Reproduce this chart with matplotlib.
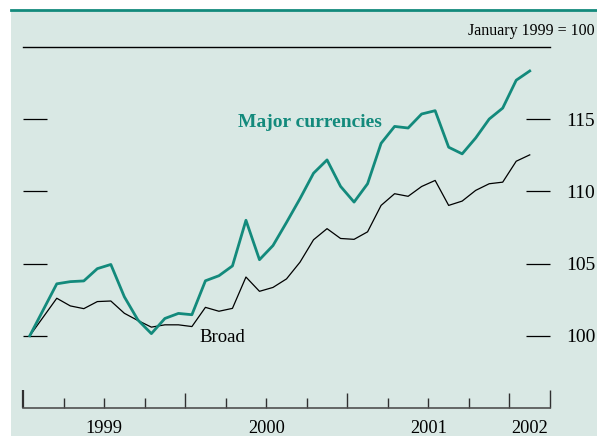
import numpy as np
import matplotlib
matplotlib.use("Agg")
import matplotlib.pyplot as plt
from matplotlib.patches import Rectangle
from matplotlib.lines import Line2D

# Monthly index values, January 1999 = 100 (Jan 1999 .. Feb 2002)
major = [100.0, 101.8, 103.6, 103.75, 103.8, 104.65, 104.94, 102.7, 101.1, 100.15,
         101.2, 101.55, 101.46, 103.81, 104.16, 104.84, 108.0, 105.27, 106.25, 107.85,
         109.5, 111.26, 112.18, 110.35, 109.26, 110.53, 113.33, 114.5, 114.39, 115.36,
         115.59, 113.06, 112.6, 113.7, 115.01, 115.77, 117.7, 118.34]
broad = [100.0, 101.3, 102.6, 102.07, 101.88, 102.37, 102.41, 101.56, 101.06, 100.6,
         100.76, 100.76, 100.64, 101.97, 101.7, 101.9, 104.07, 103.08, 103.35, 103.94,
         105.1, 106.65, 107.42, 106.74, 106.68, 107.2, 109.03, 109.84, 109.66, 110.34,
         110.76, 109.03, 109.33, 110.07, 110.53, 110.64, 112.09, 112.53]
years = ["1999", "2000", "2001", "2002"]
year_pos = [6, 18, 30, 37.5]          # months from start of 1999
y_ticks = [100, 105, 110, 115]

TEAL = "#138a7c"
BG = "#d9e8e4"

plt.rcParams["font.family"] = ["Liberation Serif", "DejaVu Serif"]

fig = plt.figure(figsize=(5.97, 4.36), dpi=100)
W, H = 597, 436

# panel background and top rule
fig.add_artist(Rectangle((11 / W, 0), 1 - 11 / W, (H - 10) / H,
                         transform=fig.transFigure, facecolor=BG, edgecolor="none", zorder=0))
fig.add_artist(Line2D([11 / W, 1], [1 - 10 / H, 1 - 10 / H], transform=fig.transFigure,
                      color=TEAL, lw=2.0, zorder=1))

ax = fig.add_axes([23 / W, (H - 408) / H, 527 / W, 361 / H])
ax.set_facecolor("none")

x = np.arange(len(major)) + 0.5
ax.plot(x, broad, color="black", lw=0.9, zorder=3)
ax.plot(x, major, color=TEAL, lw=2.0, zorder=4)

ax.set_xlim(0, 39)
ax.set_ylim(95, 120)

for side in ["left", "right"]:
    ax.spines[side].set_visible(False)
ax.spines["top"].set_color("black")
ax.spines["top"].set_linewidth(1.0)
ax.spines["bottom"].set_color("#505050")
ax.spines["bottom"].set_linewidth(1.2)

# y ticks: short dashes inside both edges, labels on the right
ax.set_yticks(y_ticks)
ax.set_yticklabels([str(v) for v in y_ticks])
ax.tick_params(axis="y", direction="in", length=17.3, width=0.9, color="black",
               left=True, right=True, labelleft=False, labelright=True,
               labelsize=14, pad=11.5)

# x ticks: quarters minor, year boundaries major, ends longest
ax.set_xticks([0, 12, 24, 36, 39])
ax.set_xticks([q for q in range(3, 39, 3) if q % 12 != 0], minor=True)
ax.tick_params(axis="x", which="major", direction="in", length=10.8, width=1.0,
               color="#303030", labelbottom=False)
ax.tick_params(axis="x", which="minor", direction="in", length=7.0, width=1.0,
               color="#303030")
ticks = ax.xaxis.get_major_ticks()
for t in (ticks[0], ticks[-1]):
    t.tick1line.set_markersize(13)
ticks[0].tick1line.set_markeredgewidth(1.6)

for label, pos in zip(years, year_pos):
    ax.text(pos, -0.034, label, transform=ax.get_xaxis_transform(),
            ha="center", va="top", fontsize=13.2)

ax.text(15.93, 114.48, "Major currencies", color=TEAL, fontsize=14,
        fontweight="bold", ha="left", va="baseline")
ax.text(13.06, 99.59, "Broad", color="black", fontsize=13.5,
        ha="left", va="baseline")

fig.text(595 / W, 1 - 31 / H, "January 1999 = 100", ha="right", va="center",
         fontsize=11.5)

fig.savefig("out.png", dpi=100)
